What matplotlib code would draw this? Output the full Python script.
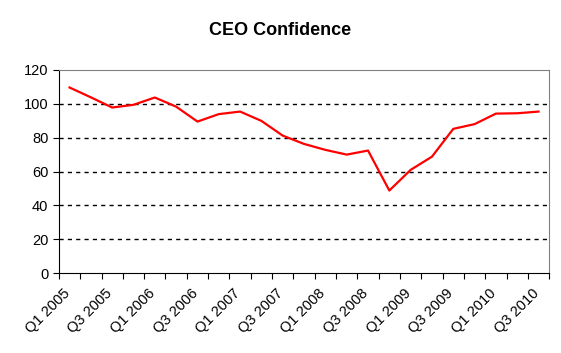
import numpy as np
import matplotlib
matplotlib.use("Agg")
import matplotlib.pyplot as plt
from matplotlib.transforms import ScaledTranslation

plt.rcParams['font.family'] = ['Liberation Sans', 'DejaVu Sans']

# quarters Q1 2005 .. Q3 2010
quarters = []
for yr in range(2005, 2011):
	for q in range(1, 5):
		quarters.append("Q%d %d" % (q, yr))
quarters = quarters[:23]

confidence = [109.6, 103.8, 97.8, 99.4, 103.7, 98.3, 89.5, 93.9, 95.4, 89.9,
              81.2, 76.3, 72.8, 70.0, 72.4, 48.8, 61.0, 68.8, 85.2, 88.0,
              94.2, 94.4, 95.4]

fig = plt.figure(figsize=(5.61, 3.53), dpi=100)
ax = fig.add_axes([0.105, 0.226, 0.874, 0.576])

x = np.arange(len(quarters))
ax.plot(x, confidence, color='red', lw=1.6, solid_joinstyle='round')

ax.set_xlim(-0.5, len(quarters) - 0.5)
ax.set_ylim(0, 120)
ax.set_yticks(range(0, 121, 20))
for v in range(20, 120, 20):
	ax.axhline(v, color='black', lw=1, ls=(0, (3, 3)), zorder=0)

# category boundary ticks, labels every other quarter
ax.set_xticks(np.arange(-0.5, len(quarters), 1.0))
ax.set_xticklabels([])
ax.set_xticks(x[::2], minor=True)
ax.set_xticklabels(quarters[::2], minor=True, rotation=45, ha='right',
                   rotation_mode='anchor', fontsize=10.5)
ax.tick_params(axis='x', which='minor', length=0, pad=6)
ax.tick_params(axis='x', which='major', length=4, direction='out')
ax.tick_params(axis='y', length=4, direction='out', labelsize=10.5)
shift = ScaledTranslation(-0.07, -0.05, fig.dpi_scale_trans)
for lab in ax.get_xticklabels(minor=True):
	lab.set_transform(lab.get_transform() + shift)

ax.spines['top'].set_color('gray')
ax.spines['right'].set_color('gray')

fig.suptitle("CEO Confidence", x=0.499, y=0.937, fontsize=13, fontweight='bold')

fig.savefig("out.png", dpi=100)
